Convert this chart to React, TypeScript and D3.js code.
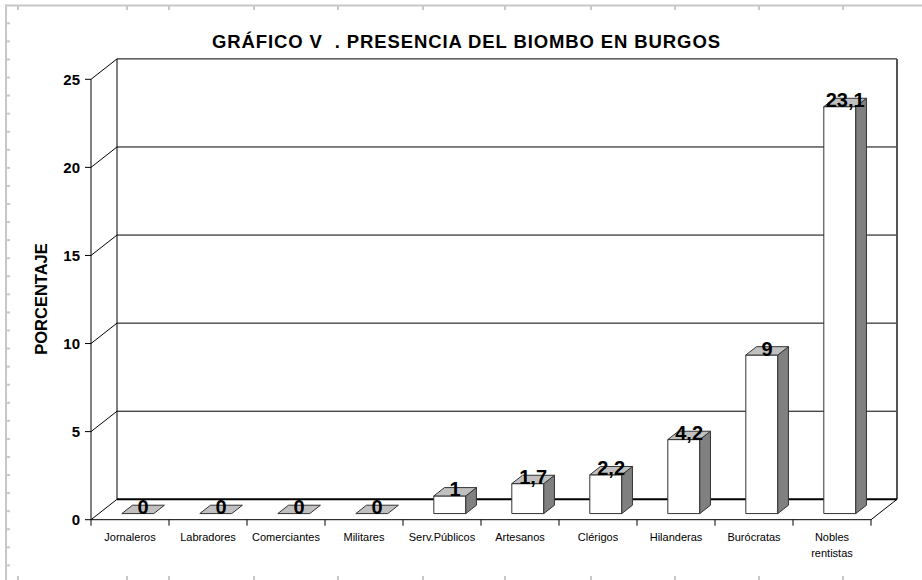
import React from "react";
import * as d3 from "d3";

const categories: string[] = [
  "Jornaleros", "Labradores", "Comerciantes", "Militares", "Serv.Públicos",
  "Artesanos", "Clérigos", "Hilanderas", "Burócratas", "Nobles rentistas",
];
const values: number[] = [0, 0, 0, 0, 1, 1.7, 2.2, 4.2, 9, 23.1];
const yTicks: number[] = [0, 5, 10, 15, 20, 25];
const title = "GRÁFICO V  . PRESENCIA DEL BIOMBO EN BURGOS";
const yTitle = "PORCENTAJE";

const W = 922;
const H = 580;
const FONT = "'Liberation Sans', Arial, Helvetica, sans-serif";

// 3D geometry
const X0 = 91, X1 = 871;
const DX = 26, DY = 20.4;
const F0 = 0.3, F1 = 0.71; // bar depth fractions
const BAR_W = 0.41;

// frame decoration positions
const frameTopX = [18, 127, 169, 254, 338, 423, 505, 591, 675, 759, 843];
const frameLeftY = d3.range(0, 31).map((i) => 23.3 + i * 18.07).filter((y) => y < H);

export default function App() {
  const x = d3.scaleBand<string>().domain(categories).range([X0, X1]).padding(0);
  const y = d3.scaleLinear().domain([0, 25]).range([519.7, 79.3]);
  const bw = x.bandwidth();
  const fmt = (v: number) => String(v).replace(".", ",");

  const pt = (px: number, v: number, f: number) => [px + f * DX, y(v) - f * DY];
  const poly = (pts: number[][]) => pts.map((p) => p.join(",")).join(" ");

  const gridVals = yTicks.filter((t) => t > 0 && t < 25);

  return (
    <svg width={W} height={H} style={{ position: "absolute", left: 0, top: 0, background: "#fff" }} fontFamily={FONT}>
      {/* frame */}
      <g fill="#c8c8c8">
        <rect x={5} y={4.5} width={W - 5} height={2} />
        <rect x={5} y={4.5} width={2} height={H - 4.5} />
        {frameTopX.map((fx, i) => (
          <rect key={"t" + i} x={fx - 1} y={6} width={2} height={4} />
        ))}
        {frameTopX.map((fx, i) => (
          <rect key={"b" + i} x={fx - 1} y={576} width={2} height={4} />
        ))}
        {frameLeftY.map((fy, i) => (
          <rect key={"l" + i} x={7} y={fy - 1} width={3} height={2} />
        ))}
      </g>

      {/* title */}
      <text x={466} y={48} textAnchor="middle" fontSize={18.5} fontWeight="bold" textLength={508} lengthAdjust="spacing" style={{ whiteSpace: "pre" }}>
        {title}
      </text>

      {/* y axis title */}
      <text transform="translate(47,299) rotate(-90)" textAnchor="middle" fontSize={16.5} fontWeight="bold">
        {yTitle}
      </text>

      {/* back wall gridlines */}
      <g stroke="#000" strokeWidth={1} fill="none">
        {gridVals.map((t) => (
          <line key={"g" + t} x1={X0 + DX} x2={X1 + DX} y1={y(t) - DY} y2={y(t) - DY} />
        ))}
        <line x1={X0 + DX} x2={X1 + DX} y1={y(25) - DY} y2={y(25) - DY} />
        <line x1={X0 + DX} x2={X0 + DX} y1={y(25) - DY} y2={y(0) - DY} />
        <line x1={X1 + DX} x2={X1 + DX} y1={y(25) - DY} y2={y(0) - DY} stroke="#555" strokeWidth={2} />
        {/* side wall diagonals */}
        {yTicks.map((t) => (
          <line key={"d" + t} x1={X0} y1={y(t)} x2={X0 + DX} y2={y(t) - DY} />
        ))}
        {/* back floor line */}
        <line x1={X0 + DX} x2={X1 + DX} y1={y(0) - DY} y2={y(0) - DY} strokeWidth={2} />
        {/* floor right edge */}
        <line x1={X1} y1={y(0)} x2={X1 + DX} y2={y(0) - DY} />
        {/* front axes */}
        <line x1={X0} x2={X0} y1={y(25)} y2={y(0)} />
        <line x1={X0} x2={X1} y1={y(0)} y2={y(0)} />
        {yTicks.map((t) => (
          <line key={"yt" + t} x1={X0 - 6} x2={X0} y1={y(t)} y2={y(t)} />
        ))}
        {d3.range(categories.length + 1).map((i) => (
          <line key={"xt" + i} x1={X0 + i * bw} x2={X0 + i * bw} y1={y(0)} y2={y(0) + 6} />
        ))}
      </g>

      {/* y tick labels */}
      {yTicks.map((t) => (
        <text key={"yl" + t} x={80} y={y(t)} dy="0.36em" textAnchor="end" fontSize={15} fontWeight="bold">
          {t}
        </text>
      ))}

      {/* bars */}
      {categories.map((c, i) => {
        const v = values[i];
        const cx = (x(c) as number) + bw / 2;
        const l = cx - (bw * BAR_W) / 2;
        const r = cx + (bw * BAR_W) / 2;
        const fl = pt(l, 0, F0), fr = pt(r, 0, F0);
        const tl = pt(l, v, F0), tr = pt(r, v, F0);
        const btl = pt(l, v, F1), btr = pt(r, v, F1);
        const bbr = pt(r, 0, F1);
        const topC = pt(cx, v, (F0 + F1) / 2);
        return (
          <g key={c} stroke="#333" strokeWidth={1} strokeLinejoin="round">
            {v > 0 && <polygon points={poly([fl, fr, tr, tl])} fill="#fff" />}
            {v > 0 && <polygon points={poly([fr, bbr, btr, tr])} fill="#808080" />}
            <polygon points={poly([tl, tr, btr, btl])} fill="#c0c0c0" />
            <text x={topC[0]} y={tl[1] + 0.5} textAnchor="middle" fontSize={20} fontWeight="bold" stroke="none" fill="#000">
              {fmt(v)}
            </text>
          </g>
        );
      })}

      {/* category labels */}
      {categories.map((c) => {
        const cx = (x(c) as number) + bw / 2;
        const parts = c === "Nobles rentistas" ? ["Nobles", "rentistas"] : [c];
        return (
          <text key={"cl" + c} x={cx} y={541} textAnchor="middle" fontSize={11} fill="#000">
            {parts.map((p, j) => (
              <tspan key={j} x={cx} dy={j === 0 ? 0 : 16}>{p}</tspan>
            ))}
          </text>
        );
      })}
    </svg>
  );
}
